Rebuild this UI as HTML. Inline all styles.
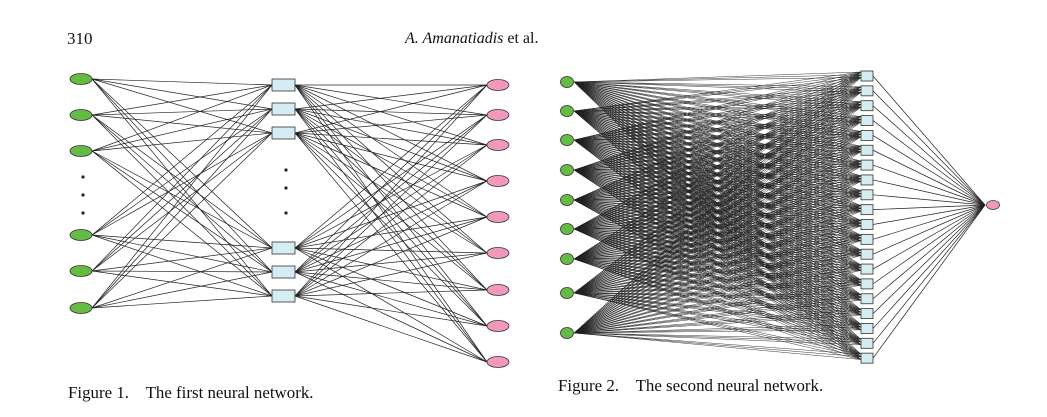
<!DOCTYPE html>
<html><head><meta charset="utf-8"><style>
html,body{margin:0;padding:0;background:#fff;}
body{width:1047px;height:417px;position:relative;overflow:hidden;font-family:"Liberation Serif",serif;color:#111;}
.t{position:absolute;white-space:pre;}
svg{position:absolute;left:0;top:0;}
</style></head><body>
<div class="t" style="left:67px;top:29px;font-size:17px;">310</div>
<div class="t" style="left:405px;top:30px;font-size:16px;"><i>A. Amanatiadis</i> et al.</div>
<div class="t" style="left:68px;top:383px;font-size:16.9px;">Figure 1.    The first neural network.</div>
<div class="t" style="left:558px;top:376px;font-size:16.9px;">Figure 2.    The second neural network.</div>
<svg id="s" width="1047" height="417" xmlns="http://www.w3.org/2000/svg"></svg>
<script>
var s=document.getElementById('s'),out='';
function L(x1,y1,x2,y2,w,c){out+='<line x1="'+x1+'" y1="'+y1+'" x2="'+x2+'" y2="'+y2+'" stroke="'+(c||'#222')+'" stroke-width="'+(w||0.8)+'"/>';}
var g1=[79,115,151,235,271,308],b1=[85,109,133,248,272,296],p1=[85,115,145,181,217,253,290,326,362];
g1.forEach(function(g){b1.forEach(function(b){L(92,g,272,b,0.7);});});
b1.forEach(function(b){p1.forEach(function(p){L(295,b,487,p,0.7);});});
g1.forEach(function(g){out+='<ellipse cx="81" cy="'+g+'" rx="11" ry="5.5" fill="#66bb44" stroke="#333" stroke-width="0.8"/>';});
b1.forEach(function(b){out+='<rect x="272" y="'+(b-6)+'" width="23" height="12" fill="#d4ecf2" stroke="#333" stroke-width="0.8"/>';});
p1.forEach(function(p){out+='<ellipse cx="498" cy="'+p+'" rx="11" ry="5.5" fill="#f099bd" stroke="#333" stroke-width="0.8"/>';});
[177,195,213].forEach(function(y){out+='<circle cx="83" cy="'+y+'" r="1.6" fill="#222"/>';});
[170,188,213].forEach(function(y){out+='<circle cx="286" cy="'+y+'" r="1.6" fill="#222"/>';});
var g2=[82,111,140,170,200,229,259,293,333],b2=[];
for(var i=0;i<20;i++)b2.push(76+i*14.85);
g2.forEach(function(g){b2.forEach(function(b){for(var k=-4;k<=4;k+=2.7)L(574,g,861,b+k,0.45);});});
b2.forEach(function(b){L(873,b,985,205,0.7);});
g2.forEach(function(g){out+='<ellipse cx="567" cy="'+g+'" rx="6.5" ry="5.5" fill="#66bb44" stroke="#333" stroke-width="0.8"/>';});
b2.forEach(function(b){out+='<rect x="861" y="'+(b-5)+'" width="12" height="10" fill="#d4ecf2" stroke="#333" stroke-width="0.8"/>';});
out+='<ellipse cx="993" cy="205" rx="6.5" ry="4.5" fill="#f099bd" stroke="#333" stroke-width="0.8"/>';
s.innerHTML=out;
</script>
</body></html>
